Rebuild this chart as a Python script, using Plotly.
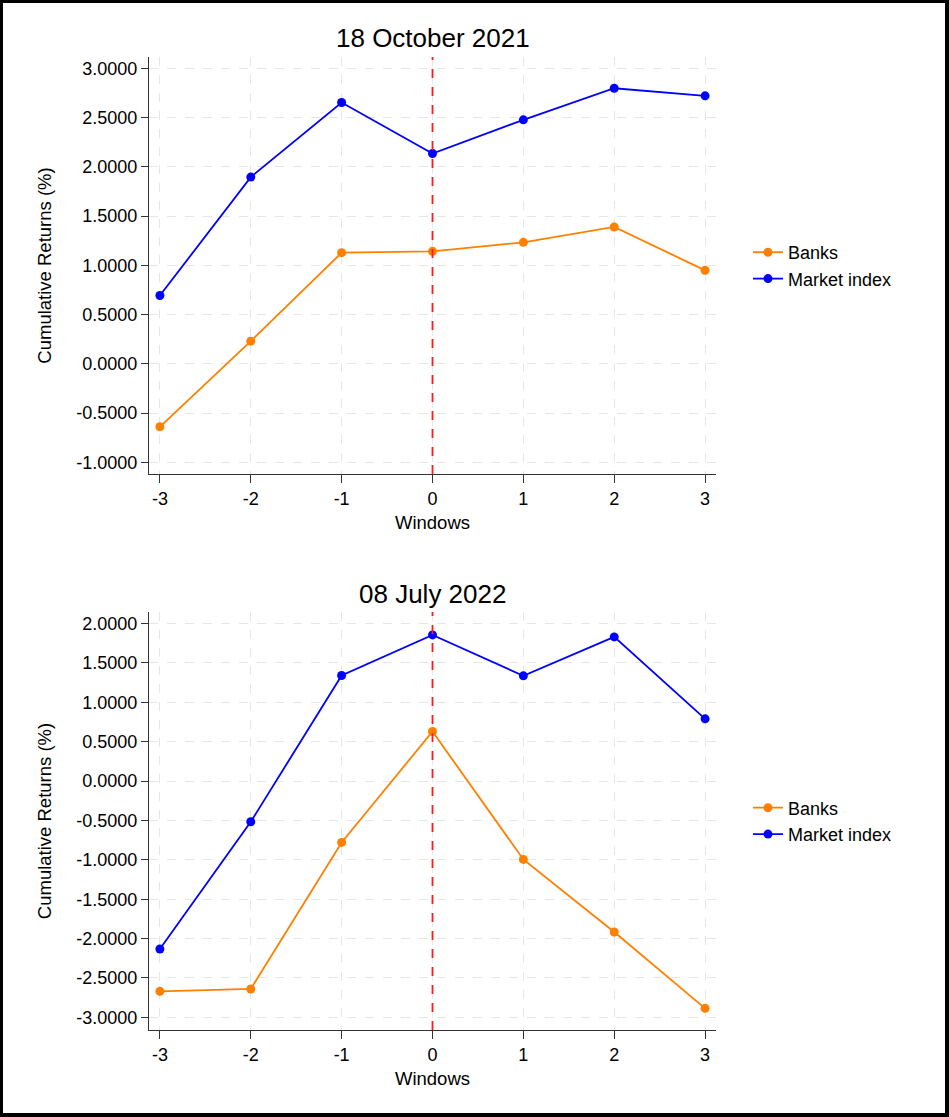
import plotly.graph_objects as go

windows = [-3, -2, -1, 0, 1, 2, 3]

# 18 October 2021
oct21_banks = [-0.639, 0.230, 1.128, 1.142, 1.233, 1.389, 0.949]
oct21_market = [0.693, 1.895, 2.652, 2.135, 2.476, 2.797, 2.720]
oct21_yticks = [-1.0, -0.5, 0.0, 0.5, 1.0, 1.5, 2.0, 2.5, 3.0]

# 08 July 2022
jul22_banks = [-2.670, -2.640, -0.779, 0.629, -0.995, -1.917, -2.886]
jul22_market = [-2.133, -0.517, 1.340, 1.856, 1.336, 1.831, 0.790]
jul22_yticks = [-3.0, -2.5, -2.0, -1.5, -1.0, -0.5, 0.0, 0.5, 1.0, 1.5, 2.0]

titles = ["18 October 2021", "08 July 2022"]
series_names = ["Banks", "Market index"]
colors = ["#ff8000", "#0000ff"]

W, H = 949, 1117
FONT = "Liberation Sans, Arial, sans-serif"

fig = go.Figure()

panels = [
    (oct21_banks, oct21_market, oct21_yticks, "x", "y", "legend", [-1.118, 3.114]),
    (jul22_banks, jul22_market, jul22_yticks, "x2", "y2", "legend2", [-3.161, 2.147]),
]

for banks, market, yt, xa, ya, lg, yr in panels:
    for name, vals, col in zip(series_names, [banks, market], colors):
        fig.add_trace(go.Scatter(
            x=windows, y=vals, name=name, mode="lines+markers",
            line=dict(color=col, width=1.8),
            marker=dict(color=col, size=9),
            xaxis=xa, yaxis=ya, legend=lg,
        ))

xdom = [149 / W, 716 / W]
ydoms = [[1 - 474 / H, 1 - 57 / H], [1 - 1030 / H, 1 - 612 / H]]

axis_common = dict(
    showline=True, linecolor="#333333", linewidth=1.3,
    ticks="outside", tickcolor="#333333", tickwidth=1.3,
    showgrid=True, gridcolor="#e6e6e6", griddash="dash", gridwidth=1,
    zeroline=False,
    tickfont=dict(family=FONT, size=18, color="#000000"),
)

layout = dict(
    width=W, height=H,
    margin=dict(l=0, r=0, t=0, b=0),
    paper_bgcolor="white", plot_bgcolor="white",
    font=dict(family=FONT, size=18, color="#000000"),
    showlegend=True,
)

for i, (banks, market, yt, xa, ya, lg, yr) in enumerate(panels):
    sfx = "" if i == 0 else "2"
    layout["xaxis" + sfx] = dict(
        axis_common, domain=xdom, anchor="y" + sfx,
        range=[-3.12, 3.12], tickvals=windows,
        ticktext=[str(w) for w in windows], ticklen=8,
        title=dict(text="Windows", font=dict(family=FONT, size=18.5), standoff=8),
    )
    layout["yaxis" + sfx] = dict(
        axis_common, domain=ydoms[i], anchor="x" + sfx,
        range=yr, tickvals=yt,
        ticktext=[f"{v:.4f}" for v in yt], ticklen=7,
        title=dict(text="Cumulative Returns (%)", font=dict(family=FONT, size=18.5), standoff=19),
    )
    layout["legend" + sfx] = dict(
        x=748 / W, xanchor="left",
        y=(ydoms[i][0] + ydoms[i][1]) / 2, yanchor="middle",
        font=dict(family=FONT, size=18),
        bgcolor="rgba(0,0,0,0)", borderwidth=0,
    )

fig.update_layout(**layout)

# event-day reference line
for i, sfx in enumerate(["", "2"]):
    fig.add_shape(type="line", xref="x" + sfx, yref="y" + sfx + " domain",
                  x0=0, x1=0, y0=0, y1=1,
                  line=dict(color="#ff1a1a", width=1.8, dash="dash"))

# panel titles
title_y = [38, 594]
for t, ty in zip(titles, title_y):
    fig.add_annotation(text=t, xref="paper", yref="paper",
                       x=(xdom[0] + xdom[1]) / 2, y=1 - ty / H,
                       xanchor="center", yanchor="middle", showarrow=False,
                       font=dict(family=FONT, size=26, color="#000000"))

# black frame
frame = [(0, 3 / W, 0, 1), (945 / W, 1, 0, 1), (0, 1, 1 - 3 / H, 1), (0, 1, 0, 4 / H)]
for x0, x1, y0, y1 in frame:
    fig.add_shape(type="rect", xref="paper", yref="paper",
                  x0=x0, x1=x1, y0=y0, y1=y1,
                  fillcolor="black", line=dict(width=0), layer="above")

fig.write_html("out.html", config={"displayModeBar": False},
               post_script="document.body.style.margin='0';document.body.style.overflow='hidden';")
